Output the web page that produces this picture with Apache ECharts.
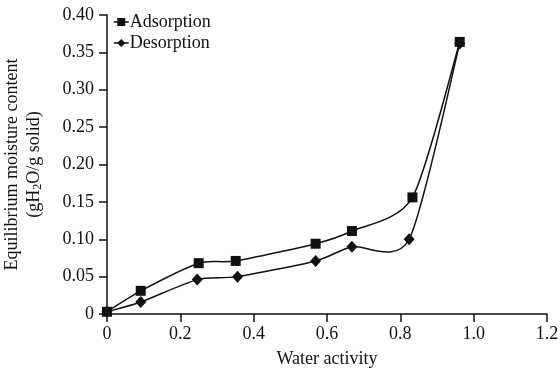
<!DOCTYPE html>
<html>
<head>
<meta charset="utf-8">
<script src="https://cdn.jsdelivr.net/npm/echarts@6/dist/echarts.min.js"></script>
<style>
  html, body { margin: 0; padding: 0; background: #fff; }
  #chart { width: 560px; height: 373px; }
</style>
</head>
<body>
<div id="chart"></div>
<script>
// water activity (x) and moisture content (y)
const adsX = [0, 0.092, 0.25, 0.351, 0.569, 0.668, 0.833, 0.962];
const adsY = [0.003, 0.031, 0.068, 0.071, 0.094, 0.111, 0.156, 0.364];
const desX = [0, 0.092, 0.246, 0.356, 0.569, 0.668, 0.824, 0.962];
const desY = [0.003, 0.016, 0.046, 0.050, 0.071, 0.090, 0.100, 0.362];

const FONT = 'Liberation Serif';
const INK = '#111';
const TENSION = 1 / 8;

const pairs = (xs, ys) => xs.map((x, i) => [x, ys[i]]);

// spreadsheet-style smoothed line: cardinal-spline segments through the data points,
// positioned with the chart's own axes (api.coord)
function smoothCurve(xs, ys) {
  return {
    type: 'custom',
    data: [[xs[0], ys[0]]],
    silent: true,
    z: 1,
    renderItem: (params, api) => {
      const p = xs.map((x, i) => api.coord([x, ys[i]]));
      const n = p.length;
      const segs = [];
      for (let i = 0; i < n - 1; i++) {
        const p0 = p[Math.max(0, i - 1)];
        const p1 = p[i];
        const p2 = p[i + 1];
        const p3 = p[Math.min(n - 1, i + 2)];
        segs.push({
          type: 'bezierCurve',
          shape: {
            x1: p1[0], y1: p1[1],
            cpx1: p1[0] + (p2[0] - p0[0]) * TENSION, cpy1: p1[1] + (p2[1] - p0[1]) * TENSION,
            cpx2: p2[0] - (p3[0] - p1[0]) * TENSION, cpy2: p2[1] - (p3[1] - p1[1]) * TENSION,
            x2: p2[0], y2: p2[1],
          },
          style: { stroke: INK, lineWidth: 1.5, fill: null },
        });
      }
      return { type: 'group', children: segs };
    },
  };
}

const chart = echarts.init(document.getElementById('chart'), null, { renderer: 'canvas' });

chart.setOption({
  backgroundColor: '#fff',
  animation: false,
  textStyle: { fontFamily: FONT, color: INK },
  grid: { left: 107, right: 13, top: 15, bottom: 59, outerBoundsMode: 'none', containLabel: false },
  legend: {
    left: 113, top: 13,
    padding: 0,
    orient: 'vertical',
    itemGap: 3,
    itemWidth: 15, itemHeight: 10,
    lineStyle: { color: INK, width: 1.5, opacity: 1 },
    textStyle: { fontFamily: FONT, fontSize: 18, color: INK, padding: [0, 0, 0, -4] },
    data: ['Adsorption', 'Desorption'],
  },
  xAxis: {
    type: 'value',
    min: 0, max: 1.2, interval: 0.2,
    name: 'Water activity',
    nameLocation: 'middle',
    nameGap: 36,
    nameTextStyle: { fontFamily: FONT, fontSize: 18, color: INK },
    axisLine: { lineStyle: { color: INK, width: 1.5 } },
    axisTick: { show: true, length: 8, lineStyle: { color: INK, width: 1.5 } },
    axisLabel: {
      fontFamily: FONT, fontSize: 18, color: INK, margin: 11,
      formatter: (v) => (v === 0 ? '0' : v.toFixed(1)),
    },
    splitLine: { show: false },
  },
  yAxis: {
    type: 'value',
    min: 0, max: 0.4, interval: 0.05,
    name: 'Equilibrium moisture content\n(gH{sub|2}O/g solid)',
    nameLocation: 'middle',
    nameGap: 62,
    nameRotate: 90,
    nameTextStyle: {
      fontFamily: FONT, fontSize: 18, color: INK, lineHeight: 22,
      rich: { sub: { fontFamily: FONT, fontSize: 12, color: INK, padding: [8, 0, 0, 0] } },
    },
    axisLine: { show: true, lineStyle: { color: INK, width: 1.5 } },
    axisTick: { show: true, length: 8, lineStyle: { color: INK, width: 1.5 } },
    axisLabel: {
      fontFamily: FONT, fontSize: 18, color: INK, margin: 13,
      formatter: (v) => (v === 0 ? '0' : v.toFixed(2)),
    },
    splitLine: { show: false },
  },
  series: [
    smoothCurve(adsX, adsY),
    smoothCurve(desX, desY),
    {
      name: 'Adsorption',
      type: 'line',
      data: pairs(adsX, adsY),
      symbol: 'rect',
      symbolSize: 10,
      itemStyle: { color: INK },
      lineStyle: { color: INK, width: 1.5, opacity: 0 },
      z: 3,
    },
    {
      name: 'Desorption',
      type: 'line',
      data: pairs(desX, desY),
      symbol: 'diamond',
      symbolSize: [11, 12],
      itemStyle: { color: INK },
      lineStyle: { color: INK, width: 1.5, opacity: 0 },
      z: 2,
    },
  ],
});

window.addEventListener('resize', () => chart.resize());
</script>
</body>
</html>
